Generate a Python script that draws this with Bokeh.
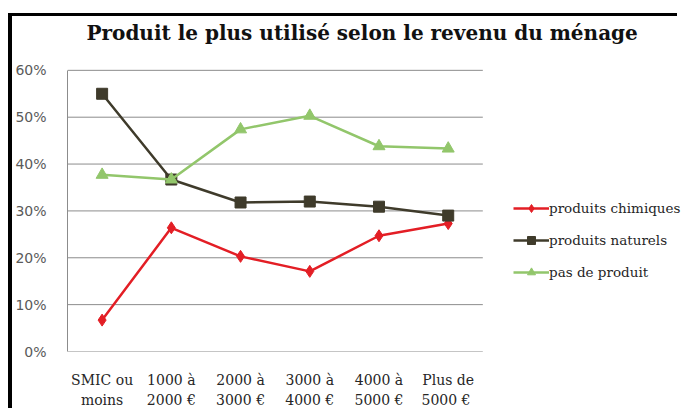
from bokeh.plotting import figure
from bokeh.models import Range1d, Legend, LegendItem, FixedTicker, Label
from bokeh.embed import file_html
from bokeh.resources import INLINE

categories = ["SMIC ou\nmoins", "1000 à\n2000 €", "2000 à\n3000 €",
              "3000 à\n4000 €", "4000 à\n5000 €", "Plus de\n5000  €"]
chimiques = [0.067, 0.264, 0.203, 0.171, 0.247, 0.273]
naturels = [0.550, 0.367, 0.318, 0.320, 0.309, 0.290]
pas_de_produit = [0.377, 0.367, 0.474, 0.503, 0.438, 0.433]
y_ticks = [0.0, 0.1, 0.2, 0.3, 0.4, 0.5, 0.6]
y_tick_labels = ["0%", "10%", "20%", "30%", "40%", "50%", "60%"]
series_names = ["produits chimiques", "produits naturels", "pas de produit"]
title_text = "Produit le plus utilisé selon le revenu du ménage"

RED = "#e31e25"
DARK = "#3f3b2b"
GREEN = "#92c66b"
GRID = "#8c8c8c"

# layout (pixels)
W, H = 669, 395
LEFT, BOTTOM = 54, 59
PLOT_W, PLOT_H = 416, 282          # area holding the categories / 0-60 %
frame_w, frame_h = W - LEFT, H - BOTTOM
n = len(categories)
unit = PLOT_W / n
x_end = -0.5 + frame_w / unit
y_end = y_ticks[-1] * frame_h / PLOT_H
xs = list(range(n))

p = figure(x_range=Range1d(-0.5, x_end), y_range=Range1d(0, y_end),
           width=W, height=H,
           min_border_left=LEFT, min_border_right=0,
           min_border_top=0, min_border_bottom=BOTTOM,
           output_backend="svg", toolbar_location=None)
p.styles = {"border-left": "4px solid black", "border-top": "3px solid black",
            "margin-top": "13px", "margin-left": "8px"}

p.outline_line_color = None
p.xgrid.grid_line_color = None
p.ygrid.grid_line_color = None

# horizontal gridlines, limited to the category area
p.segment(x0=[-0.5] * len(y_ticks), x1=[n - 0.5] * len(y_ticks),
          y0=y_ticks, y1=y_ticks, line_color=GRID, line_width=1)

p.yaxis.ticker = FixedTicker(ticks=y_ticks)
p.yaxis.bounds = (y_ticks[0], y_ticks[-1])
p.yaxis.major_label_overrides = {t: l for t, l in zip(y_ticks, y_tick_labels)}
p.yaxis.major_tick_line_color = None
p.yaxis.minor_tick_line_color = None
p.yaxis.axis_line_color = GRID
p.yaxis.major_label_standoff = 15
p.yaxis.major_label_text_font = "DejaVu Sans"
p.yaxis.major_label_text_font_size = "14px"
p.yaxis.major_label_text_color = "#5a5a5a"

p.xaxis.ticker = FixedTicker(ticks=xs)
p.xaxis.major_label_overrides = {i: c for i, c in zip(xs, categories)}
p.xaxis.major_tick_line_color = None
p.xaxis.minor_tick_line_color = None
p.xaxis.axis_line_color = None
p.xaxis.major_label_standoff = 14
p.xaxis.major_label_text_font = "DejaVu Serif"
p.xaxis.major_label_text_font_size = "14px"
p.xaxis.major_label_text_color = "#262626"
p.xaxis.major_label_text_line_height = 1.3

r1l = p.line(xs, chimiques, line_color=RED, line_width=2.5)
r1m = p.scatter(xs, chimiques, marker="diamond", size=12,
                fill_color=RED, line_color=RED)
r2l = p.line(xs, naturels, line_color=DARK, line_width=2.5)
r2m = p.scatter(xs, naturels, marker="square", size=11,
                fill_color=DARK, line_color=DARK)
r3l = p.line(xs, pas_de_produit, line_color=GREEN, line_width=2.5)
r3m = p.scatter(xs, pas_de_produit, marker="triangle", size=12,
                fill_color=GREEN, line_color=GREEN)

legend = Legend(items=[LegendItem(label=series_names[0], renderers=[r1l, r1m]),
                       LegendItem(label=series_names[1], renderers=[r2l, r2m]),
                       LegendItem(label=series_names[2], renderers=[r3l, r3m])],
                location=(446, 69), padding=0, margin=0, spacing=12,
                glyph_width=36, glyph_height=20, label_standoff=0,
                border_line_color=None, background_fill_alpha=0)
legend.label_text_font = "DejaVu Serif"
legend.label_text_font_size = "13.5px"
legend.label_text_color = "#262626"
p.add_layout(legend, "center")

title = Label(x=-0.5 + 19 / unit, y=y_ticks[-1] * (352 - 33) / PLOT_H,
              text=title_text, text_font="DejaVu Serif", text_font_style="bold",
              text_font_size="20px", text_color="#111111",
              text_align="left", text_baseline="alphabetic")
p.add_layout(title)

open("out.html", "w").write(file_html(p, INLINE))
